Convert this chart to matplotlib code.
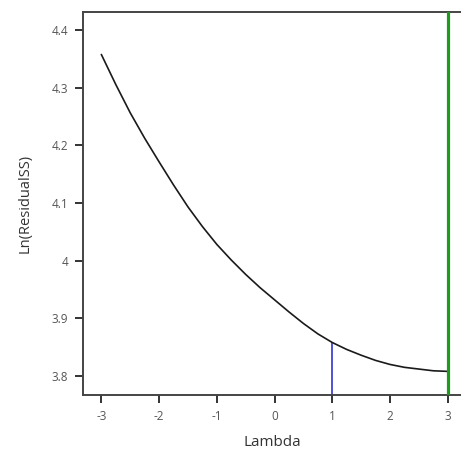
import matplotlib.pyplot as plt
import numpy as np

# Box-Cox lambda scan: ln of residual sum of squares
lam = [-3.0, -2.75, -2.5, -2.25, -2.0, -1.75, -1.5, -1.25, -1.0, -0.75, -0.5, -0.25,
       0.0, 0.25, 0.5, 0.75, 1.0, 1.25, 1.5, 1.75, 2.0, 2.25, 2.5, 2.75, 3.0]
ln_rss = [4.357, 4.305, 4.256, 4.212, 4.171, 4.131, 4.093, 4.059, 4.028, 4.001, 3.976, 3.953,
          3.932, 3.911, 3.891, 3.873, 3.858, 3.846, 3.836, 3.827, 3.820, 3.815, 3.812, 3.809, 3.808]
current_lambda = 1.0
best_lambda = 3.0
xticks = [-3, -2, -1, 0, 1, 2, 3]
yticks = [3.8, 3.9, 4.0, 4.1, 4.2, 4.3, 4.4]
ytick_labels = ['3.8', '3.9', '4', '4.1', '4.2', '4.3', '4.4']

plt.rcParams['font.family'] = 'Open Sans'

fig = plt.figure(figsize=(4.61, 4.53), dpi=100)
# plot area runs off the right edge of the canvas
ax = fig.add_axes([0.180, 0.128, 0.850, 0.8455])

ax.plot(lam, ln_rss, color='#1a1a1a', linewidth=1.2, zorder=3)

# current lambda marker, drawn up to the curve
y_cur = np.interp(current_lambda, lam, ln_rss)
ax.plot([current_lambda, current_lambda], [3.767, y_cur], color='#5050d8', linewidth=1.4, zorder=2)
# best lambda marker, full height
ax.axvline(best_lambda, color='#1f9a1f', linewidth=2.3, zorder=4)

ax.set_xlim(-3.32, 3.47)
ax.set_ylim(3.767, 4.431)
ax.set_xticks(xticks)
ax.set_xticklabels([str(t) for t in xticks])
ax.set_yticks(yticks)
ax.set_yticklabels(ytick_labels)

ax.tick_params(direction='out', length=5.5, width=1.4, color='#333333',
               labelsize=8.5, labelcolor='#555555', pad=5)
for side in ['left', 'bottom', 'top', 'right']:
    ax.spines[side].set_color('#444444')
    ax.spines[side].set_linewidth(1.4)

# x label sits under the tick range, not under the (wider) axes box
ax.set_xlabel('Lambda', fontsize=11, color='#333333')
ax.xaxis.set_label_coords(0.482, -0.105)
ax.set_ylabel('Ln(ResidualSS)', fontsize=10.5, color='#333333', labelpad=14)

fig.savefig('out.png', dpi=100)
